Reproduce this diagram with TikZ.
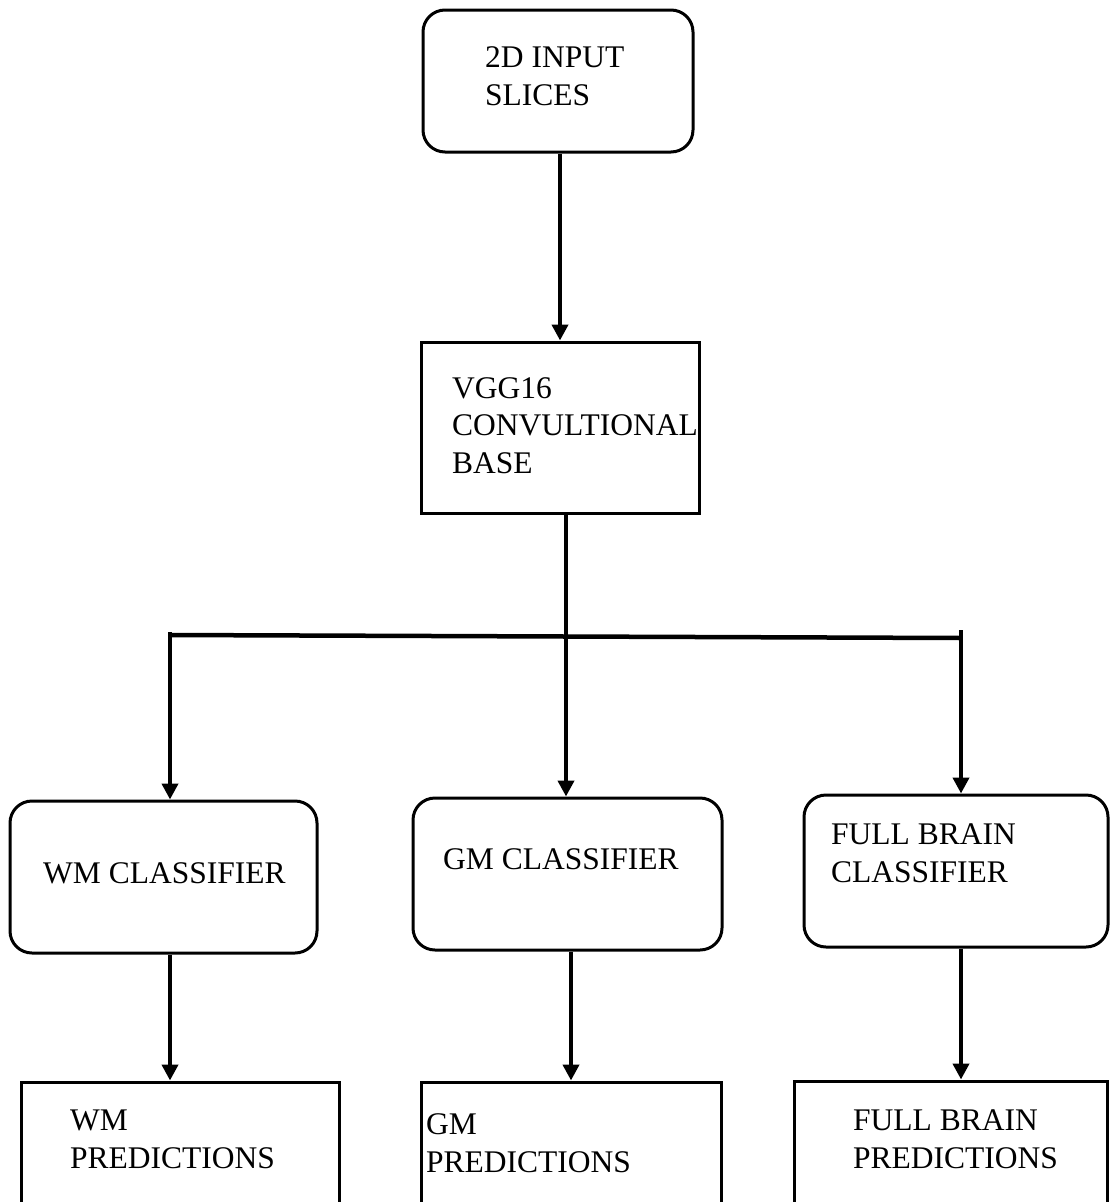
\documentclass[tikz,border=0pt]{standalone}
\usepackage{fontspec}
\setmainfont{Liberation Serif}
\usetikzlibrary{arrows.meta}

\tikzset{
  rbox/.style={draw, line width=3pt, rounded corners=22pt, inner sep=0pt},
  sbox/.style={draw, line width=3pt, inner sep=0pt},
  % labels are placed by the baseline of their last line
  lbl/.style={anchor=base west, inner sep=0pt, align=left,
    font=\fontsize{31.5}{37.5}\selectfont},
  arr/.style={line width=4pt, -{Triangle[width=16pt,length=16pt]}},
  bar/.style={line width=4.5pt},
}

\begin{document}
\begin{tikzpicture}[x=1pt, y=-1pt]
  \useasboundingbox (0,0) rectangle (1110,1202);
  \clip (0,0) rectangle (1110,1202);

  % boxes
  \node[rbox, minimum width=270pt, minimum height=142pt] (input) at (558,81) {};
  \node[sbox, minimum width=278pt, minimum height=171pt] (vgg) at (560,427.5) {};
  \node[rbox, minimum width=307pt, minimum height=152pt] (wmc) at (163.5,877) {};
  \node[rbox, minimum width=309pt, minimum height=152pt] (gmc) at (567.5,874) {};
  \node[rbox, minimum width=304pt, minimum height=152pt] (fbc) at (956,871) {};
  \node[sbox, minimum width=318pt, minimum height=158pt] (wmp) at (180,1161) {};
  \node[sbox, minimum width=300pt, minimum height=158pt] (gmp) at (571,1161) {};
  \node[sbox, minimum width=313pt, minimum height=159pt] (fbp) at (950.5,1160.5) {};

  % labels
  \node[lbl] (inputtxt) at (485,105) {2D INPUT\\SLICES};
  \node[lbl] (vggtxt) at (452,473) {VGG16\\CONVULTIONAL\\BASE};
  \node[lbl] (wmctxt) at (43,883) {WM CLASSIFIER};
  \node[lbl] (gmctxt) at (443,869) {GM CLASSIFIER};
  \node[lbl] (fbctxt) at (831,882) {FULL BRAIN\\CLASSIFIER};
  \node[lbl] (wmptxt) at (70,1168) {WM\\PREDICTIONS};
  \node[lbl] (gmptxt) at (426,1172) {GM\\PREDICTIONS};
  \node[lbl] (fbptxt) at (853,1168) {FULL BRAIN\\PREDICTIONS};

  % branching points
  \coordinate (tickL) at (170,632);
  \coordinate (tickR) at (961,630);
  \coordinate (barL) at (170,635);
  \coordinate (barR) at (961,638);

  % connectors
  \draw[arr] (input.south -| vgg.north) -- (vgg.north);
  \draw[arr] ([xshift=6pt]vgg.south) -- ([xshift=6pt]vgg.south |- gmc.north);
  \draw[bar] (barL) -- (barR);
  \draw[arr] (tickL) -- (tickL |- wmc.north);
  \draw[arr] (tickR) -- (tickR |- fbc.north);
  \draw[arr] (tickL |- wmc.south) -- (tickL |- wmp.north);
  \draw[arr] (gmc.south -| gmp.north) -- (gmp.north);
  \draw[arr] (tickR |- fbc.south) -- (tickR |- fbp.north);
\end{tikzpicture}
\end{document}
